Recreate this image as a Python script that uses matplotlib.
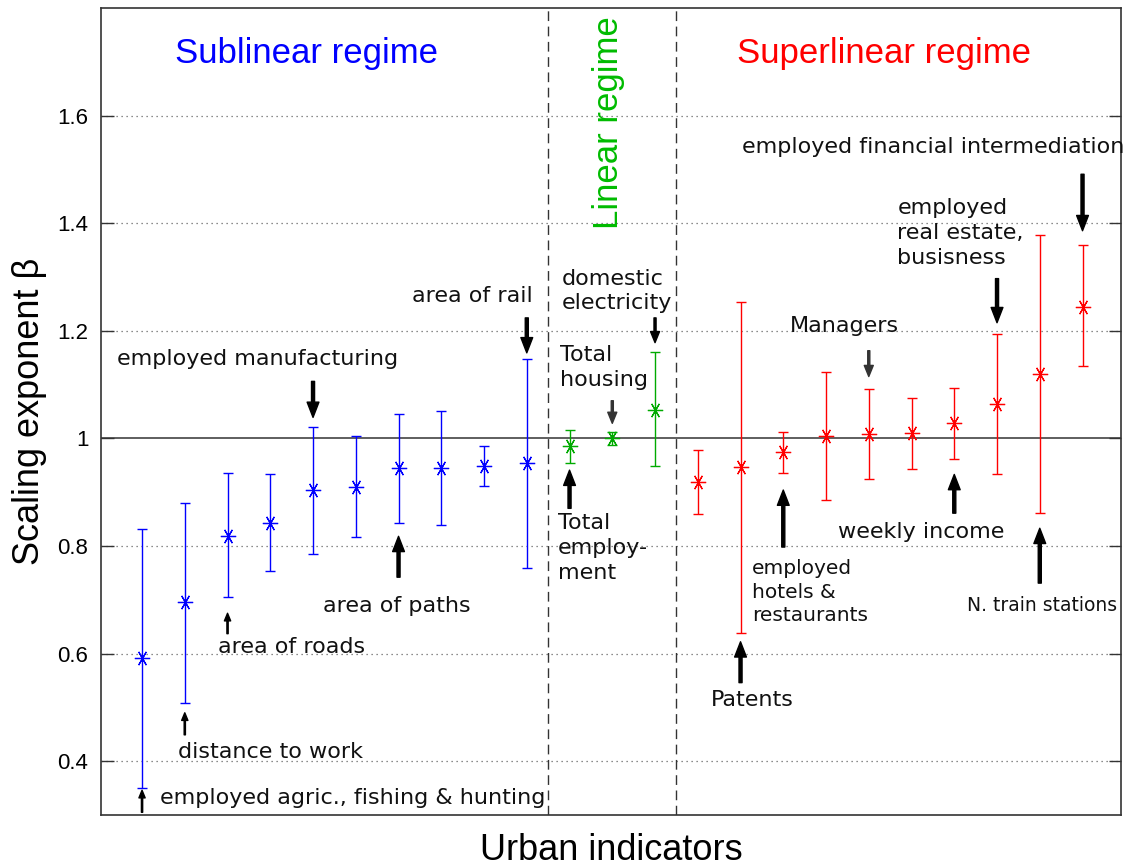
import matplotlib
matplotlib.use("Agg")
import matplotlib.pyplot as plt
import numpy as np

# scaling exponents, one group per regime
sub_beta = [0.591, 0.696, 0.819, 0.842, 0.904, 0.910, 0.945, 0.945, 0.949, 0.954]
sub_hi = [0.831, 0.879, 0.935, 0.933, 1.021, 1.005, 1.045, 1.051, 0.986, 1.147]
sub_lo = [0.351, 0.509, 0.706, 0.753, 0.786, 0.816, 0.843, 0.839, 0.912, 0.759]

lin_beta = [0.985, 1.000, 1.053]
lin_hi = [1.015, 1.012, 1.160]
lin_lo = [0.955, 0.988, 0.948]

sup_beta = [0.919, 0.946, 0.974, 1.004, 1.009, 1.010, 1.029, 1.064, 1.120, 1.245]
sup_hi = [0.979, 1.254, 1.012, 1.123, 1.092, 1.076, 1.094, 1.194, 1.378, 1.359]
sup_lo = [0.859, 0.639, 0.935, 0.886, 0.924, 0.943, 0.962, 0.933, 0.862, 1.134]

y_ticks = [0.4, 0.6, 0.8, 1.0, 1.2, 1.4, 1.6]
y_tick_labels = ["0.4", "0.6", "0.8", "1", "1.2", "1.4", "1.6"]

LABEL_FONT = ["Liberation Sans", "DejaVu Sans"]
NOTE_FONT = ["DejaVu Sans"]

fig = plt.figure(figsize=(11.24, 8.67), dpi=100)
ax = fig.add_axes([101 / 1124, 52 / 867, 1020 / 1124, 807 / 867])

star = (6, 2, 90)


def draw_group(start, beta, lo, hi, color):
    x = np.arange(start, start + len(beta))
    beta = np.array(beta)
    err = [beta - np.array(lo), np.array(hi) - beta]
    ax.errorbar(x, beta, yerr=err, fmt="none", ecolor=color, elinewidth=1.0,
                capsize=3.5, capthick=1.0, zorder=3)
    ax.plot(x, beta, linestyle="none", marker=star, markersize=11,
            markeredgecolor=color, markeredgewidth=0.9, zorder=4)
    ax.plot(x, beta, linestyle="none", marker=".", markersize=3,
            color=color, zorder=5)
    return x[-1] + 1


nxt = draw_group(1, sub_beta, sub_lo, sub_hi, "#0000ff")
nxt2 = draw_group(nxt, lin_beta, lin_lo, lin_hi, "#00aa00")
draw_group(nxt2, sup_beta, sup_lo, sup_hi, "#ff0000")

# regime separators and reference line
for xs in (nxt - 0.5, nxt2 - 0.5):
    ax.axvline(xs, color="#333333", lw=1.0, linestyle=(0, (7, 4)), zorder=2)
ax.axhline(1.0, color="#333333", lw=1.1, zorder=2)
for yt in y_ticks:
    if yt != 1.0:
        ax.axhline(yt, color="#666666", lw=0.9, linestyle=(0, (1, 3)), zorder=1)

ax.set_xlim(0.04, 23.9)
ax.set_ylim(0.3, 1.8)
ax.set_xticks([])
ax.set_yticks(y_ticks)
ax.set_yticklabels(y_tick_labels, fontsize=16, family=LABEL_FONT)
ax.tick_params(axis="y", direction="in", length=9, width=1.0, color="#333333",
               right=True, pad=9)
for s in ax.spines.values():
    s.set_color("#333333")
    s.set_linewidth(1.2)

ax.set_ylabel("Scaling exponent β", fontsize=26, family=LABEL_FONT)
ax.yaxis.set_label_coords(-0.053, 0.5)
ax.set_xlabel("Urban indicators", fontsize=26, family=LABEL_FONT)
ax.xaxis.set_label_coords(0.5, -0.022)

# regime titles
ax.text(4.84, 1.697, "Sublinear regime", color="#0000ff", fontsize=25,
        family=LABEL_FONT, ha="center", va="baseline")
ax.text(18.35, 1.697, "Superlinear regime", color="#ff0000", fontsize=25,
        family=LABEL_FONT, ha="center", va="baseline")
ax.text(11.92, 1.785, "Linear regime", color="#00bb00", fontsize=25,
        family=LABEL_FONT, ha="center", va="top", rotation=90)

big = dict(facecolor="black", edgecolor="black", width=2.2, headwidth=8.5,
           headlength=11, shrink=0)
mid = dict(facecolor="black", edgecolor="black", width=1.5, headwidth=6.5,
           headlength=8, shrink=0)
midgray = dict(facecolor="#333333", edgecolor="#333333", width=1.5,
               headwidth=6.5, headlength=8, shrink=0)
small = dict(facecolor="black", edgecolor="black", width=0.9, headwidth=4.5,
             headlength=5.5, shrink=0)

# (text, text x, text y, size, arrow x, tail y, tip y, arrow style)
notes = [
    ("employed agric., fishing & hunting", 1.42, 0.332, 16, 1, 0.305, 0.346, small),
    ("distance to work", 1.84, 0.418, 16, 2, 0.449, 0.490, small),
    ("area of roads", 2.78, 0.612, 16, 3, 0.637, 0.675, small),
    ("area of paths", 5.23, 0.688, 16, 7, 0.742, 0.818, big),
    ("employed manufacturing", 0.42, 1.148, 16, 5, 1.106, 1.039, big),
    ("area of rail", 7.31, 1.265, 16, 10, 1.224, 1.159, big),
    ("domestic\nelectricity", 10.82, 1.274, 16, 13, 1.224, 1.178, mid),
    ("Total\nhousing", 10.77, 1.132, 16, 12, 1.070, 1.028, midgray),
    ("Total\nemploy-\nment", 10.73, 0.796, 16, 11, 0.870, 0.941, big),
    ("Patents", 14.30, 0.514, 16, 15, 0.546, 0.622, big),
    ("employed\nhotels &\nrestaurants", 15.26, 0.714, 14.5, 16, 0.798, 0.904, big),
    ("Managers", 16.15, 1.208, 16, 18, 1.163, 1.115, midgray),
    ("weekly income", 17.29, 0.826, 16, 20, 0.861, 0.933, big),
    ("N. train stations", 20.29, 0.690, 13.5, 22, 0.731, 0.833, big),
    ("employed\nreal estate,\nbusisness", 18.67, 1.382, 16, 21, 1.297, 1.215, big),
    ("employed financial intermediation", 15.03, 1.542, 16, 23, 1.491, 1.386, big),
]
for txt, tx, ty, fs, axx, y0, y1, style in notes:
    ax.text(tx, ty, txt, fontsize=fs, family=NOTE_FONT, color="#111111",
            ha="left", va="center", linespacing=1.3, zorder=6)
    ax.annotate("", xy=(axx, y1), xytext=(axx, y0), arrowprops=style, zorder=6)

fig.savefig("out.png", dpi=100)
